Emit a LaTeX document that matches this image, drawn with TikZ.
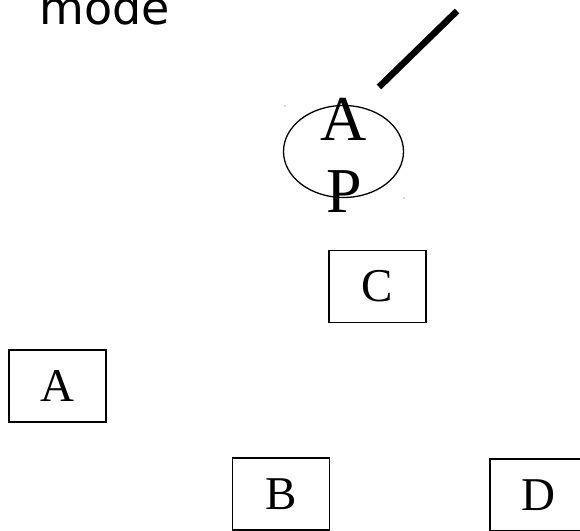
\documentclass[tikz,border=0pt]{standalone}
\usepackage{fontspec}
\setmainfont{Liberation Serif}
\newfontfamily\labelsans{DejaVu Sans}
\usetikzlibrary{shapes.geometric}
\begin{document}
\begin{tikzpicture}[x=1pt,y=1pt,
  letterbox/.style={draw, line width=1.8pt, minimum width=97pt, minimum height=72pt,
    inner sep=0pt, font=\fontsize{47}{50}\selectfont},
  bigletter/.style={anchor=base, inner sep=0pt, font=\fontsize{64}{70}\selectfont},
  ring/.style={draw, ellipse, line width=1.3pt, minimum width=120pt, minimum height=92pt, inner sep=0pt},
  speck/.style={fill=black!70, circle, inner sep=0pt, minimum size=1.2pt}]
  \useasboundingbox (0,0) rectangle (580,-530);

  % caption fragment at the top
  \node[anchor=base west, inner sep=0pt, font=\labelsans\fontsize{46}{54}\selectfont] (mode) at (39,-24) {mode};

  % access point: ellipse with its two letters and the corner specks
  \node[ring] (ap) at (343.5,-151.5) {};
  \node[bigletter] (apA) at (344,-140) {A};
  \node[bigletter] (apP) at (344,-212) {P};
  \node[speck] (specka) at (285,-106) {};
  \node[speck] (speckb) at (404,-198) {};

  % antenna stroke
  \coordinate (antlow) at (379,-87);
  \coordinate (anthigh) at (457,-11);
  \draw[line width=6.5pt] (antlow) -- (anthigh);

  % stations
  \node[letterbox] (C) at (377.5,-286.5) {C};
  \node[letterbox] (A) at (57.5,-386) {A};
  \node[letterbox] (B) at (281,-494) {B};
  \node[letterbox] (D) at (538.5,-495) {D};
\end{tikzpicture}
\end{document}
